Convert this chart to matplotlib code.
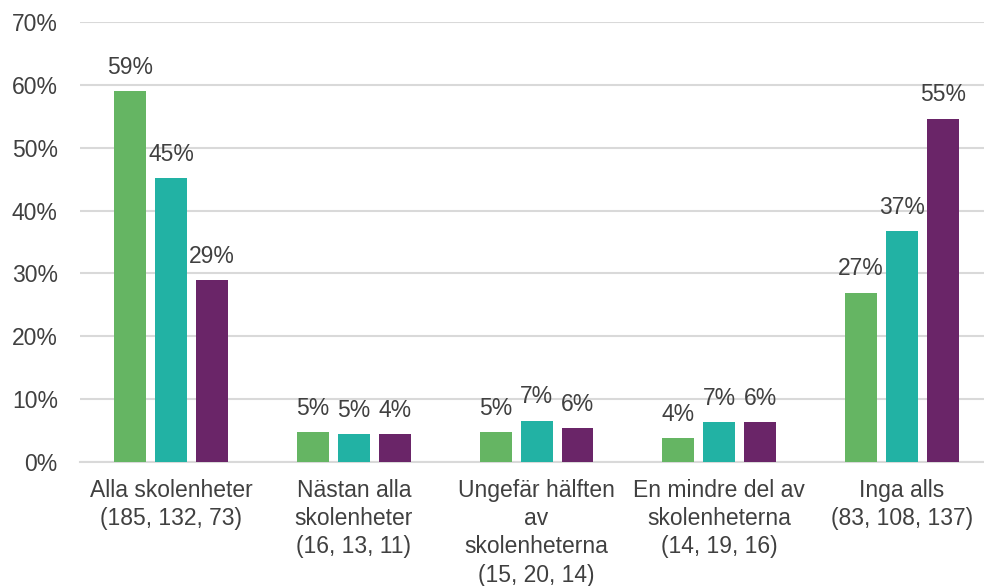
import numpy as np
import matplotlib.pyplot as plt

plt.rcParams['font.family'] = ['Liberation Sans', 'DejaVu Sans']

categories = [
    "Alla skolenheter\n(185, 132, 73)",
    "Nästan alla\nskolenheter\n(16, 13, 11)",
    "Ungefär hälften\nav\nskolenheterna\n(15, 20, 14)",
    "En mindre del av\nskolenheterna\n(14, 19, 16)",
    "Inga alls\n(83, 108, 137)",
]

# bar heights in percent
serie1 = [59.0, 4.7, 4.7, 3.8, 26.9]
serie2 = [45.1, 4.4, 6.6, 6.3, 36.7]
serie3 = [28.9, 4.4, 5.4, 6.3, 54.6]

# the labels as printed in the chart
labels1 = ["59%", "5%", "5%", "4%", "27%"]
labels2 = ["45%", "5%", "7%", "7%", "37%"]
labels3 = ["29%", "4%", "6%", "6%", "55%"]

colors = ["#65b563", "#22b2a4", "#6a2568"]
textcol = "#404040"
fs = 16.5

fig = plt.figure(figsize=(9.84, 5.86), dpi=100)
ax = fig.add_axes([0.0813, 0.2116, 0.928, 0.7509])

x = np.arange(len(categories))
w = 0.175
step = 0.224

for off, vals, labs, c in [(-step, serie1, labels1, colors[0]),
                           (0, serie2, labels2, colors[1]),
                           (step, serie3, labels3, colors[2])]:
    bars = ax.bar(x + off, vals, w, color=c, zorder=3)
    for b, lab in zip(bars, labs):
        ax.annotate(lab, (b.get_x() + b.get_width() / 2, b.get_height()),
                    xytext=(0, 9), textcoords='offset points',
                    ha='center', va='bottom', fontsize=fs, color=textcol)

ax.set_xlim(-0.5, len(categories) - 0.5)
ax.set_ylim(0, 70)
ax.set_yticks(range(0, 71, 10))
ax.set_yticklabels([f"{v}%" for v in range(0, 71, 10)])
ax.set_xticks(x)
ax.set_xticklabels(categories, linespacing=1.3)
ax.tick_params(axis='both', length=0, labelsize=fs, colors=textcol)
ax.tick_params(axis='y', pad=16)
ax.tick_params(axis='x', pad=12)

ax.grid(axis='y', color='#d9d9d9', linewidth=1.5, zorder=0)
for s in ['top', 'right', 'left']:
    ax.spines[s].set_visible(False)
ax.spines['bottom'].set_color('#d9d9d9')
ax.spines['bottom'].set_linewidth(1.5)

plt.savefig("out.png", dpi=100)
